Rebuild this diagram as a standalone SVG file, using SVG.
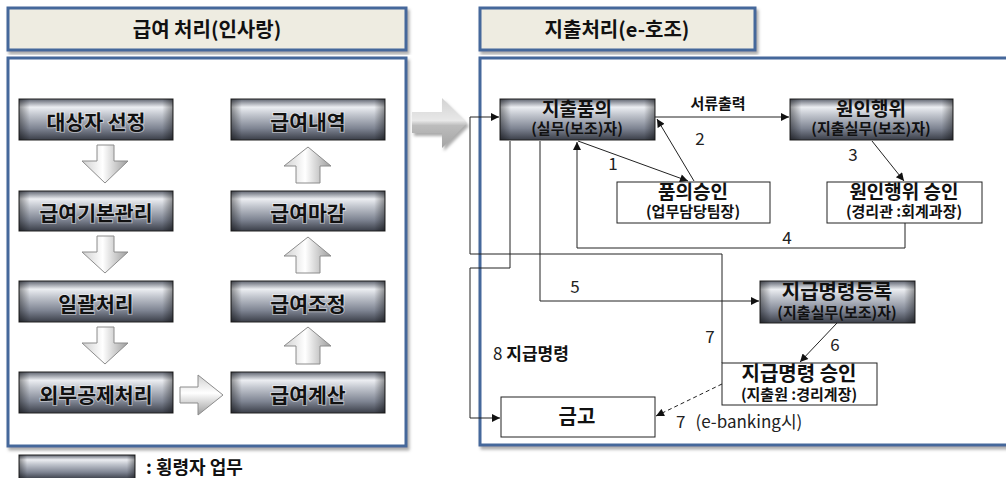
<svg xmlns="http://www.w3.org/2000/svg" width="1006" height="478" viewBox="0 0 1006 478">
<defs>
<style>
text{font-family:"Noto Sans CJK KR","Noto Sans",sans-serif;fill:#111}
.panel{fill:#fff;stroke:#44679b;stroke-width:3}
.head{fill:#eeece1;stroke:#44679b;stroke-width:3}
.ht{font-size:20px;font-weight:bold;text-anchor:middle}
.mb{stroke:#222;stroke-width:1}
.wb{fill:#fff;stroke:#222;stroke-width:1}
.bt{font-size:20.5px;font-weight:bold;text-anchor:middle;stroke:#fff;stroke-opacity:.45;stroke-width:2;paint-order:stroke}
.nt{font-weight:bold;text-anchor:middle}
.st{font-size:15px}
.sa{fill:url(#wa);stroke:#8c8c8c;stroke-width:1}
.cn{fill:none;stroke:#222;stroke-width:1}
.num{font-size:17px;fill:#222}
</style>
<linearGradient id="metal" x1="0" y1="0" x2="0" y2="1">
<stop offset="0" stop-color="#5f6470"/>
<stop offset="0.2" stop-color="#eceef2"/>
<stop offset="0.38" stop-color="#c3c7cf"/>
<stop offset="0.72" stop-color="#7e8492"/>
<stop offset="1" stop-color="#3a3e48"/>
</linearGradient>
<linearGradient id="edge" x1="0" y1="0" x2="1" y2="0">
<stop offset="0" stop-color="#000" stop-opacity="0.4"/>
<stop offset="0.07" stop-color="#000" stop-opacity="0"/>
<stop offset="0.93" stop-color="#000" stop-opacity="0"/>
<stop offset="1" stop-color="#000" stop-opacity="0.4"/>
</linearGradient>
<linearGradient id="wa" x1="0" y1="0" x2="1" y2="0">
<stop offset="0" stop-color="#d0d0d0"/>
<stop offset="0.45" stop-color="#ffffff"/>
<stop offset="1" stop-color="#9c9c9c"/>
</linearGradient>
<linearGradient id="wav" x1="0" y1="0" x2="0" y2="1">
<stop offset="0" stop-color="#cfcfcf"/>
<stop offset="0.45" stop-color="#ffffff"/>
<stop offset="1" stop-color="#9c9c9c"/>
</linearGradient>
<linearGradient id="big" x1="0" y1="0" x2="0" y2="1">
<stop offset="0" stop-color="#d2d2d2"/>
<stop offset="0.45" stop-color="#e8e8e8"/>
<stop offset="0.55" stop-color="#bcbcbc"/>
<stop offset="1" stop-color="#a4a4a4"/>
</linearGradient>
<filter id="sh" x="-5%" y="-5%" width="110%" height="115%">
<feDropShadow dx="2" dy="3" stdDeviation="1.5" flood-color="#888" flood-opacity="0.7"/>
</filter>
<marker id="ah" viewBox="0 0 10 10" refX="10" refY="5" markerWidth="10" markerHeight="8" orient="auto" markerUnits="userSpaceOnUse">
<path d="M0,0 L10,5 L0,10 z" fill="#111"/>
</marker>
</defs>

<!-- panels -->
<g id="left-header"><rect class="head" x="8" y="8" width="398" height="42" filter="url(#sh)"/><text class="ht" x="207" y="37">급여 처리(인사랑)</text></g>
<g id="left-panel"><rect class="panel" x="8" y="58" width="398" height="388" filter="url(#sh)"/></g>
<g id="right-header"><rect class="head" x="480" y="8" width="275" height="42" filter="url(#sh)"/><text class="ht" x="617" y="37">지출처리(e-호조)</text></g>
<g id="right-panel"><rect class="panel" x="480" y="58" width="560" height="387" filter="url(#sh)"/></g>

<!-- left boxes -->
<g id="n-daesang"><rect class="mb" x="19" y="99" width="154" height="41" fill="url(#metal)"/><rect x="19" y="99" width="154" height="41" fill="url(#edge)"/><text class="bt" x="96" y="130">대상자 선정</text></g>
<g id="n-gibon"><rect class="mb" x="19" y="191" width="154" height="40" fill="url(#metal)"/><rect x="19" y="191" width="154" height="40" fill="url(#edge)"/><text class="bt" x="96" y="221">급여기본관리</text></g>
<g id="n-ilgwal"><rect class="mb" x="19" y="281" width="154" height="41" fill="url(#metal)"/><rect x="19" y="281" width="154" height="41" fill="url(#edge)"/><text class="bt" x="96" y="312">일괄처리</text></g>
<g id="n-oebu"><rect class="mb" x="19" y="372" width="154" height="41" fill="url(#metal)"/><rect x="19" y="372" width="154" height="41" fill="url(#edge)"/><text class="bt" x="96" y="403">외부공제처리</text></g>
<g id="n-naeyeok"><rect class="mb" x="231" y="99" width="154" height="41" fill="url(#metal)"/><rect x="231" y="99" width="154" height="41" fill="url(#edge)"/><text class="bt" x="308" y="130">급여내역</text></g>
<g id="n-magam"><rect class="mb" x="231" y="191" width="154" height="40" fill="url(#metal)"/><rect x="231" y="191" width="154" height="40" fill="url(#edge)"/><text class="bt" x="308" y="221">급여마감</text></g>
<g id="n-jojeong"><rect class="mb" x="231" y="281" width="154" height="41" fill="url(#metal)"/><rect x="231" y="281" width="154" height="41" fill="url(#edge)"/><text class="bt" x="308" y="312">급여조정</text></g>
<g id="n-gyesan"><rect class="mb" x="231" y="372" width="154" height="41" fill="url(#metal)"/><rect x="231" y="372" width="154" height="41" fill="url(#edge)"/><text class="bt" x="308" y="403">급여계산</text></g>

<!-- right nodes -->
<g id="n-pumui"><rect class="mb" x="500" y="99" width="155" height="41" fill="url(#metal)"/><rect x="500" y="99" width="155" height="41" fill="url(#edge)"/><text class="nt" x="577" y="116" font-size="19">지출품의<tspan class="st" x="577" y="134">(실무(보조)자)</tspan></text></g>
<g id="n-wonin"><rect class="mb" x="790" y="99" width="163" height="41" fill="url(#metal)"/><rect x="790" y="99" width="163" height="41" fill="url(#edge)"/><text class="nt" x="871" y="116" font-size="19">원인행위<tspan class="st" x="871" y="134">(지출실무(보조)자)</tspan></text></g>
<g id="n-pumuiseungin"><rect class="wb" x="617" y="182" width="153" height="41"/><text class="nt" x="693" y="199" font-size="19">품의승인<tspan class="st" x="693" y="217">(업무담당팀장)</tspan></text></g>
<g id="n-woninseungin"><rect class="wb" x="827" y="182" width="155" height="41"/><text class="nt" x="904" y="199" font-size="19">원인행위 승인<tspan class="st" x="904" y="217">(경리관 :회계과장)</tspan></text></g>
<g id="n-jigeupdeungrok"><rect class="mb" x="760" y="281" width="155" height="42" fill="url(#metal)"/><rect x="760" y="281" width="155" height="42" fill="url(#edge)"/><text class="nt" x="837" y="299" font-size="20">지급명령등록<tspan class="st" x="837" y="318">(지출실무(보조)자)</tspan></text></g>
<g id="n-jigeupseungin"><rect class="wb" x="722" y="363" width="155" height="42"/><text class="nt" x="799" y="381" font-size="20">지급명령 승인<tspan class="st" x="799" y="400">(지출원 :경리계장)</tspan></text></g>
<g id="n-geumgo"><rect class="wb" x="501" y="397" width="154" height="40"/><text class="nt" x="577" y="424" font-size="20">금고</text></g>

<!-- legend -->
<g id="legend"><rect class="mb" x="19" y="455" width="116" height="24" fill="url(#metal)"/><rect x="19" y="455" width="116" height="24" fill="url(#edge)"/><text x="146" y="474" font-size="18" font-weight="bold">: 횡령자 업무</text></g>

<!-- block arrows -->
<g id="block-arrows">
<polygon class="sa" points="97,145 114,145 114,161 128,161 105,183 82,161 97,161"/>
<polygon class="sa" points="97,236 114,236 114,252 128,252 105,273 82,252 97,252"/>
<polygon class="sa" points="97,327 114,327 114,343 128,343 105,364 82,343 97,343"/>
<polygon class="sa" points="308,147 331,166 320,166 320,183 296,183 296,166 284,166"/>
<polygon class="sa" points="308,237 331,256 320,256 320,273 296,273 296,256 284,256"/>
<polygon class="sa" points="308,327 331,346 320,346 320,364 296,364 296,346 284,346"/>
<polygon points="180,387 198,387 198,375 223,395 198,415 198,403 180,403" fill="url(#wav)" stroke="#8c8c8c"/>
<polygon points="412,112 442,112 442,98 467,123 442,148 442,133 412,133" fill="url(#big)" filter="url(#sh)"/>
</g>

<!-- connectors -->
<g id="connectors">
<path class="cn" d="M655,117 H789" marker-end="url(#ah)"/>
<path class="cn" d="M578,141 L688,181" marker-end="url(#ah)"/>
<path class="cn" d="M694,181 L657,119" marker-end="url(#ah)"/>
<path class="cn" d="M872,141 L904,181" marker-end="url(#ah)"/>
<path class="cn" d="M905,223 V248 H577 V142" marker-end="url(#ah)"/>
<path class="cn" d="M540,141 V301 H759" marker-end="url(#ah)"/>
<path class="cn" d="M837,323 L800,362" marker-end="url(#ah)"/>
<path class="cn" d="M722,363 V254 H470 V117 H499" marker-end="url(#ah)"/>
<path class="cn" d="M510,141 V268 H470 V418 H500" marker-end="url(#ah)"/>
<path class="cn" d="M722,384 L656,416" stroke="#444" stroke-dasharray="4,3" marker-end="url(#ah)"/>
</g>

<!-- labels -->
<g id="labels">
<text x="718" y="109" font-size="15" font-weight="bold" text-anchor="middle">서류출력</text>
<text class="num" x="613" y="170" text-anchor="middle">1</text>
<text class="num" x="700" y="145" text-anchor="middle">2</text>
<text class="num" x="853" y="161" text-anchor="middle">3</text>
<text class="num" x="787" y="244" text-anchor="middle">4</text>
<text class="num" x="575" y="293" text-anchor="middle">5</text>
<text class="num" x="835" y="351" text-anchor="middle">6</text>
<text class="num" x="710" y="343" text-anchor="middle">7</text>
<text x="493" y="360" font-size="17"><tspan fill="#222">8 </tspan><tspan font-weight="bold">지급명령</tspan></text>
<text class="num" x="676" y="428" font-size="18">7<tspan dx="10">(e-banking시)</tspan></text>
</g>
</svg>
